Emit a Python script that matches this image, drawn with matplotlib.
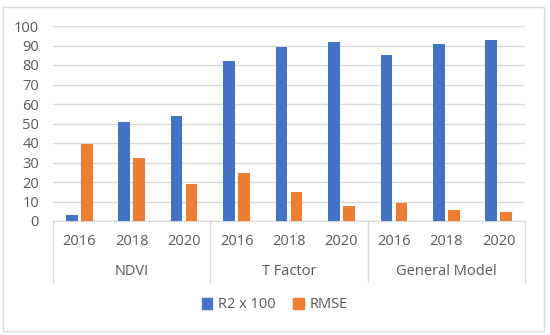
import matplotlib.pyplot as plt
import matplotlib.transforms as mtransforms
from matplotlib.patches import Rectangle, Patch
import numpy as np

groups = ['NDVI', 'T Factor', 'General Model']
years = ['2016', '2018', '2020']
r2_x100 = [3, 51, 54, 82, 89, 92, 85, 91, 93]
rmse = [39.5, 32.5, 19, 24.5, 15, 7.5, 9, 5.5, 4.5]

plt.rcParams['font.family'] = ['Open Sans', 'DejaVu Sans']
txt = '#595959'
grid = '#d9d9d9'
blue = '#4472C4'
orange = '#ED7D31'
fs = 10.5

W, H = 550, 335
fig = plt.figure(figsize=(W / 100, H / 100), dpi=100)

# outer frame
fig.patches.append(Rectangle((3 / W, 1 - 331 / H), 541 / W, 324 / H,
                             transform=fig.transFigure, fill=False,
                             edgecolor=grid, linewidth=1))

ax = fig.add_axes([53 / W, 1 - 221 / H, 472 / W, 195 / H])
n = len(r2_x100)
x = np.arange(n)
bw = 0.223
off = 0.143
ax.bar(x - off, r2_x100, bw, color=blue, zorder=3)
ax.bar(x + off, rmse, bw, color=orange, zorder=3)

ax.set_xlim(-0.5, n - 0.5)
ax.set_ylim(0, 100)
ax.set_yticks(range(0, 101, 10))
ax.tick_params(axis='y', length=0, labelsize=fs, colors=txt, pad=10)
ax.set_xticks([])
ax.yaxis.grid(True, color=grid, linewidth=1)
for s in ['top', 'right', 'left']:
    ax.spines[s].set_visible(False)
ax.spines['bottom'].set_color(grid)

trans = mtransforms.blended_transform_factory(ax.transData, ax.transAxes)
for i in range(n):
    ax.text(x[i], -0.106, years[i % 3], transform=trans, ha='center',
            va='center', fontsize=fs, color=txt)
for g, name in enumerate(groups):
    ax.text(g * 3 + 1, -0.26, name, transform=trans, ha='center',
            va='center', fontsize=fs, color=txt)
for b in [-0.5, 2.5, 5.5, 8.5]:
    ax.plot([b, b], [0, -0.311], transform=trans, color=grid,
            linewidth=1, clip_on=False)

handles = [Patch(color=blue, label='R2 x 100'), Patch(color=orange, label='RMSE')]
fig.legend(handles=handles, loc='center', bbox_to_anchor=(0.5, 1 - 305 / H),
           ncol=2, frameon=False, fontsize=fs, labelcolor=txt,
           handlelength=0.7, handleheight=0.7, handletextpad=0.4,
           columnspacing=1.2)

fig.savefig('out.png', dpi=100)
